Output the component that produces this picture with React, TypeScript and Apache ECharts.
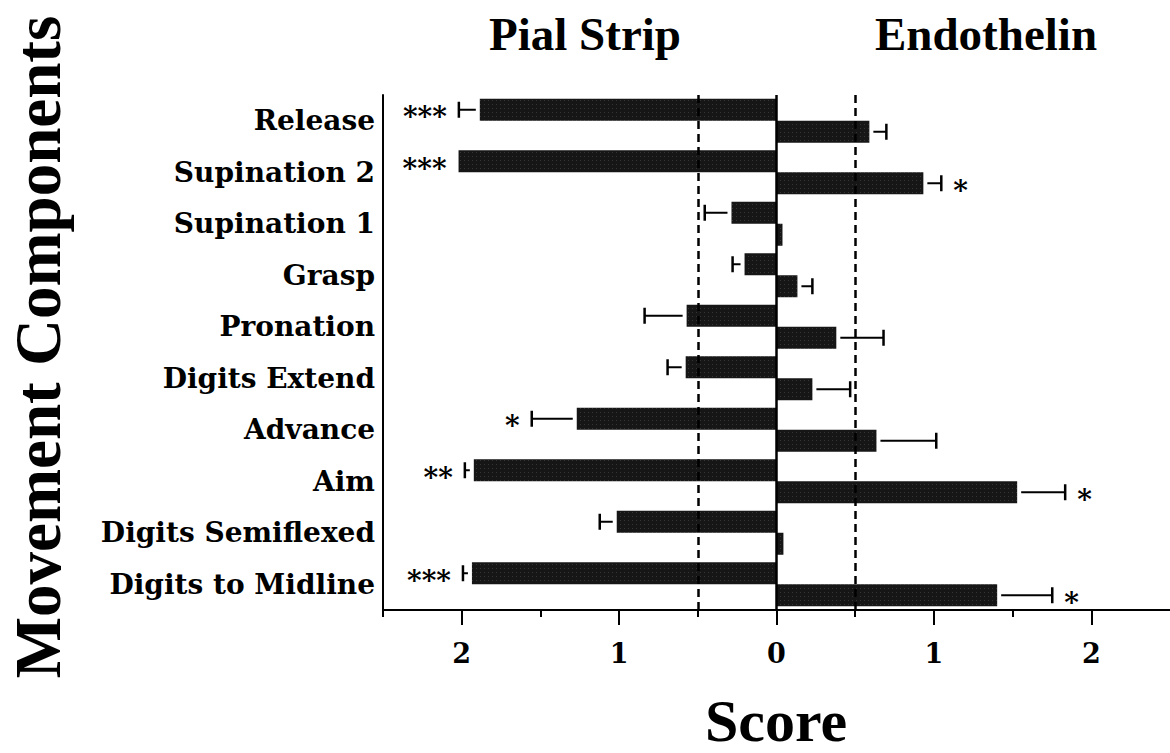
import React, { useEffect, useRef } from "react";
import * as echarts from "echarts";

const categories = [
  "Release",
  "Supination 2",
  "Supination 1",
  "Grasp",
  "Pronation",
  "Digits Extend",
  "Advance",
  "Aim",
  "Digits Semiflexed",
  "Digits to Midline",
];
const pialStrip = [-1.885, -2.02, -0.286, -0.203, -0.571, -0.577, -1.269, -1.923, -1.015, -1.935];
const pialErr = [0.133, 0, 0.17, 0.076, 0.267, 0.115, 0.286, 0.057, 0.108, 0.057];
const pialSig = ["***", "***", "", "", "", "", "*", "**", "", "***"];
const endothelin = [0.59, 0.933, 0.038, 0.133, 0.38, 0.228, 0.635, 1.529, 0.044, 1.402];
const endoErr = [0.108, 0.114, 0, 0.095, 0.3, 0.24, 0.38, 0.305, 0, 0.35];
const endoSig = ["", "*", "", "", "", "", "", "*", "", "*"];
const majorTicks = [-2, -1, 0, 1, 2];
const minorTicks = [-2.5, -1.5, -0.5, 0.5, 1.5];
const refLines = [-0.5, 0.5];
const titles = ["Pial Strip", "Endothelin"];
const xName = "Score";
const yName = "Movement Components";

const LABEL_FONT = "'DejaVu Serif', serif";
const TITLE_FONT = "'Liberation Serif', 'Times New Roman', serif";

export default function App() {
  const ref = useRef<HTMLDivElement>(null);
  useEffect(() => {
    if (!ref.current) return;
    const chart = echarts.init(ref.current, null, { renderer: "svg" });

    const barStyle = {
      color: "#161616",
      decal: {
        symbol: "rect",
        symbolSize: 0.6,
        color: "rgba(255,255,255,0.45)",
        dashArrayX: [1, 3],
        dashArrayY: [1, 3],
        rotation: 0,
      },
    };

    const makeErr = (vals: number[], errs: number[], sigs: string[], off: number) => ({
      type: "custom",
      z: 5,
      silent: true,
      encode: { x: 0, y: 1 },
      data: vals.map((v, i) => [v, i, errs[i]]),
      renderItem: (params: any, api: any) => {
        const v = api.value(0);
        const i = api.value(1);
        const e = api.value(2);
        const sign = v < 0 ? -1 : 1;
        const p0 = api.coord([v, i]);
        const p1 = api.coord([v + sign * e, i]);
        const y = p0[1] + off;
        const children: any[] = [];
        if (e > 0) {
          children.push({
            type: "line",
            shape: { x1: p0[0] + sign * 4, y1: y, x2: p1[0], y2: y },
            style: { stroke: "#000", lineWidth: 2 },
          });
          children.push({
            type: "line",
            shape: { x1: p1[0], y1: y - 8, x2: p1[0], y2: y + 8 },
            style: { stroke: "#000", lineWidth: 2.5 },
          });
        }
        const sig = sigs[params.dataIndex];
        if (sig) {
          children.push({
            type: "text",
            x: p1[0] + sign * 12,
            y: y + 7,
            style: {
              text: sig,
              fontFamily: LABEL_FONT,
              fontWeight: "bold",
              fontSize: 28,
              fill: "#000",
              align: sign < 0 ? "right" : "left",
              verticalAlign: "middle",
            },
          });
        }
        return { type: "group", children };
      },
    });

    chart.setOption({
      animation: false,
      backgroundColor: "#fff",
      grid: { left: 383, top: 95, width: 788, height: 515, containLabel: false },
      xAxis: [
        {
          type: "value",
          min: -2.5,
          max: 2.5,
          interval: 0.5,
          position: "bottom",
          axisLine: { show: true, onZero: false, lineStyle: { color: "#000", width: 2 } },
          axisTick: {
            show: true,
            length: 15,
            customValues: majorTicks,
            lineStyle: { color: "#000", width: 2 },
          },
          axisLabel: {
            show: true,
            customValues: majorTicks,
            margin: 30,
            fontFamily: LABEL_FONT,
            fontWeight: "bold",
            fontSize: 27,
            color: "#000",
            formatter: (v: number) => (Number.isInteger(v) ? String(Math.abs(v)) : ""),
          },
          splitLine: { show: false },
        },
        {
          type: "value",
          min: -2.5,
          max: 2.5,
          interval: 0.5,
          position: "bottom",
          axisLine: { show: false },
          axisTick: {
            show: true,
            length: 7,
            customValues: minorTicks,
            lineStyle: { color: "#000", width: 2 },
          },
          axisLabel: { show: false },
          splitLine: { show: false },
        },
      ],
      yAxis: {
        type: "category",
        data: categories,
        inverse: true,
        position: "left",
        axisLine: { show: true, onZero: false, lineStyle: { color: "#000", width: 2 } },
        axisTick: { show: false },
        axisLabel: {
          margin: 8,
          fontFamily: LABEL_FONT,
          fontWeight: "bold",
          fontSize: 28,
          color: "#000",
          verticalAlign: "middle",
          padding: [0, 0, 8, 0],
        },
        splitLine: { show: false },
      },
      series: [
        {
          name: titles[0],
          type: "bar",
          data: pialStrip,
          barWidth: 22,
          barGap: "0%",
          itemStyle: barStyle,
          markLine: {
            silent: true,
            symbol: ["none", "none"],
            label: { show: false },
            data: [
              { xAxis: 0, lineStyle: { type: "solid", color: "#000", width: 2.5 } },
              ...refLines.map((r) => ({
                xAxis: r,
                lineStyle: { type: [8, 5], color: "#000", width: 2.5 },
              })),
            ],
          },
        },
        {
          name: titles[1],
          type: "bar",
          data: endothelin,
          barWidth: 22,
          barGap: "0%",
          itemStyle: barStyle,
        },
        makeErr(pialStrip, pialErr, pialSig, -11),
        makeErr(endothelin, endoErr, endoSig, 11),
      ],
      graphic: [
        {
          type: "text",
          x: 585,
          y: 34,
          style: {
            text: titles[0],
            fontFamily: TITLE_FONT,
            fontWeight: "bold",
            fontSize: 47,
            fill: "#000",
            align: "center",
            verticalAlign: "middle",
          },
        },
        {
          type: "text",
          x: 986,
          y: 34,
          style: {
            text: titles[1],
            fontFamily: TITLE_FONT,
            fontWeight: "bold",
            fontSize: 47,
            fill: "#000",
            align: "center",
            verticalAlign: "middle",
          },
        },
        {
          type: "text",
          x: 776,
          y: 721,
          style: {
            text: xName,
            fontFamily: TITLE_FONT,
            fontWeight: "bold",
            fontSize: 60,
            lineHeight: 56,
            fill: "#000",
            align: "center",
            verticalAlign: "middle",
          },
        },
        {
          type: "text",
          x: 38,
          y: 347,
          rotation: Math.PI / 2,
          style: {
            text: yName,
            fontFamily: TITLE_FONT,
            fontWeight: "bold",
            fontSize: 65,
            fill: "#000",
            align: "center",
            verticalAlign: "middle",
          },
        },
      ],
    });
    return () => chart.dispose();
  }, []);
  return (
    <div
      ref={ref}
      style={{ position: "absolute", left: 0, top: 0, width: 1170, height: 753, background: "#fff" }}
    />
  );
}
